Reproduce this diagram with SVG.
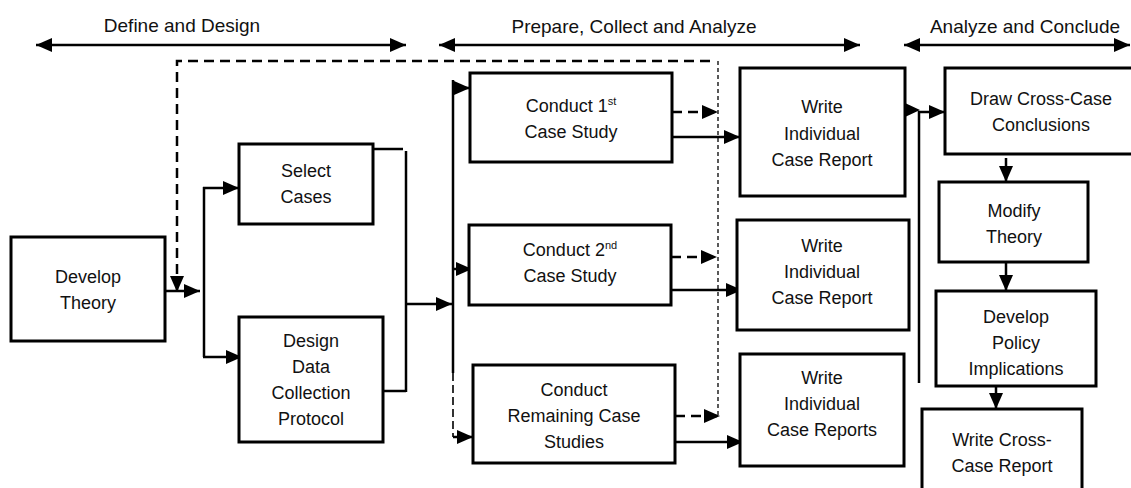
<svg xmlns="http://www.w3.org/2000/svg" width="1131" height="488" viewBox="0 0 1131 488">
<style>
.box{fill:#fff;stroke:#000;stroke-width:3}
.t{font-family:"Liberation Sans",Arial,sans-serif;font-size:18px;fill:#111;text-anchor:middle}
.h{font-family:"Liberation Sans",Arial,sans-serif;font-size:19px;fill:#111;text-anchor:middle}
.c{fill:none;stroke:#000;stroke-width:2.5}
.d{fill:none;stroke:#000;stroke-width:2.5;stroke-dasharray:10 6}
.dt{fill:none;stroke:#000;stroke-width:1.3;stroke-dasharray:4 3}
.dm{fill:none;stroke:#000;stroke-width:1.6;stroke-dasharray:8 4}
.sup{font-size:11px}
</style>
<defs>
<marker id="ah" markerUnits="userSpaceOnUse" markerWidth="16" markerHeight="14" refX="16" refY="7" orient="auto-start-reverse"><path d="M0,0 L16,7 L0,14 z" fill="#000"/></marker>
</defs>
<g id="phases">
<line class="c" x1="36" y1="45" x2="406" y2="45" marker-start="url(#ah)" marker-end="url(#ah)"/>
<text class="h" x="182" y="32">Define and Design</text>
<line class="c" x1="439" y1="45" x2="860" y2="45" marker-start="url(#ah)" marker-end="url(#ah)"/>
<text class="h" x="634" y="33">Prepare, Collect and Analyze</text>
<line class="c" x1="904" y1="45" x2="1130" y2="45" marker-start="url(#ah)" marker-end="url(#ah)"/>
<text class="h" x="1025" y="33">Analyze and Conclude</text>
</g>
<g id="connectors">
<path class="d" d="M710,61 L177,61 L177,292" marker-end="url(#ah)"/>
<line class="dt" x1="718" y1="61" x2="718" y2="418"/>
<line class="c" x1="165" y1="291" x2="200" y2="291" marker-end="url(#ah)"/>
<line class="c" x1="204" y1="187" x2="204" y2="357"/>
<line class="c" x1="203" y1="188" x2="239" y2="188" marker-end="url(#ah)"/>
<line class="c" x1="203" y1="357" x2="242" y2="357" marker-end="url(#ah)"/>
<line class="c" x1="373" y1="149" x2="403" y2="149"/>
<line class="c" x1="406" y1="151" x2="406" y2="392"/>
<line class="c" x1="383" y1="391" x2="406" y2="391"/>
<line class="c" x1="407" y1="304" x2="452" y2="304" marker-end="url(#ah)"/>
<line class="c" x1="453" y1="80" x2="453" y2="373"/>
<line class="c" x1="453" y1="88" x2="470" y2="88" marker-end="url(#ah)"/>
<line class="c" x1="453" y1="269" x2="472" y2="269" marker-end="url(#ah)"/>
<path class="dm" d="M453,373 L453,437"/>
<line class="c" x1="453" y1="437" x2="473" y2="437" marker-end="url(#ah)"/>
<line class="d" x1="672" y1="112" x2="718" y2="112" marker-end="url(#ah)"/>
<line class="c" x1="672" y1="137" x2="740" y2="137" marker-end="url(#ah)"/>
<line class="d" x1="671" y1="257" x2="717" y2="257" marker-end="url(#ah)"/>
<line class="c" x1="671" y1="290" x2="742" y2="290" marker-end="url(#ah)"/>
<line class="d" x1="675" y1="416" x2="720" y2="416" marker-end="url(#ah)"/>
<line class="c" x1="675" y1="442" x2="743" y2="442" marker-end="url(#ah)"/>
<path d="M905,103 L920,110 L905,117 z" fill="#000"/>
<line class="c" x1="919" y1="111" x2="919" y2="383"/>
<line class="c" x1="918" y1="112" x2="945" y2="112" marker-end="url(#ah)"/>
<path d="M855,452 L870,459 L855,466 z" fill="#000"/>
<line class="c" x1="1006" y1="158" x2="1006" y2="182" marker-end="url(#ah)"/>
<line class="c" x1="1006" y1="262" x2="1006" y2="291" marker-end="url(#ah)"/>
<line class="c" x1="996" y1="386" x2="996" y2="409" marker-end="url(#ah)"/>
</g>
<g id="develop-theory">
<rect class="box" x="11" y="237" width="154" height="104"/>
<text class="t" x="88" y="283">Develop</text>
<text class="t" x="88" y="309">Theory</text>
</g>
<g id="select-cases">
<rect class="box" x="239" y="144" width="134" height="80"/>
<text class="t" x="306" y="177">Select</text>
<text class="t" x="306" y="203">Cases</text>
</g>
<g id="design-protocol">
<rect class="box" x="239" y="317" width="144" height="125"/>
<text class="t" x="311" y="347">Design</text>
<text class="t" x="311" y="373">Data</text>
<text class="t" x="311" y="399">Collection</text>
<text class="t" x="311" y="425">Protocol</text>
</g>
<g id="conduct-1">
<rect class="box" x="470" y="73" width="202" height="89"/>
<text class="t" x="571" y="112">Conduct 1<tspan class="sup" dy="-7">st</tspan></text>
<text class="t" x="571" y="138">Case Study</text>
</g>
<g id="conduct-2">
<rect class="box" x="469" y="225" width="202" height="80"/>
<text class="t" x="570" y="256">Conduct 2<tspan class="sup" dy="-7">nd</tspan></text>
<text class="t" x="570" y="282">Case Study</text>
</g>
<g id="conduct-remaining">
<rect class="box" x="473" y="365" width="202" height="98"/>
<text class="t" x="574" y="396">Conduct</text>
<text class="t" x="574" y="422">Remaining Case</text>
<text class="t" x="574" y="448">Studies</text>
</g>
<g id="write-1">
<rect class="box" x="740" y="68" width="165" height="128"/>
<text class="t" x="822" y="113">Write</text>
<text class="t" x="822" y="140">Individual</text>
<text class="t" x="822" y="166">Case Report</text>
</g>
<g id="write-2">
<rect class="box" x="737" y="220" width="172" height="110"/>
<text class="t" x="822" y="252">Write</text>
<text class="t" x="822" y="278">Individual</text>
<text class="t" x="822" y="304">Case Report</text>
</g>
<g id="write-3">
<rect class="box" x="740" y="354" width="164" height="112"/>
<text class="t" x="822" y="384">Write</text>
<text class="t" x="822" y="410">Individual</text>
<text class="t" x="822" y="436">Case Reports</text>
</g>
<g id="draw-conclusions">
<rect class="box" x="945" y="68" width="190" height="86"/>
<text class="t" x="1041" y="105">Draw Cross-Case</text>
<text class="t" x="1041" y="131">Conclusions</text>
</g>
<g id="modify-theory">
<rect class="box" x="939" y="182" width="149" height="80"/>
<text class="t" x="1014" y="217">Modify</text>
<text class="t" x="1014" y="243">Theory</text>
</g>
<g id="policy">
<rect class="box" x="936" y="291" width="160" height="95"/>
<text class="t" x="1016" y="323">Develop</text>
<text class="t" x="1016" y="349">Policy</text>
<text class="t" x="1016" y="375">Implications</text>
</g>
<g id="cross-case-report">
<rect class="box" x="922" y="409" width="160" height="90"/>
<text class="t" x="1002" y="446">Write Cross-</text>
<text class="t" x="1002" y="472">Case Report</text>
</g>
</svg>
